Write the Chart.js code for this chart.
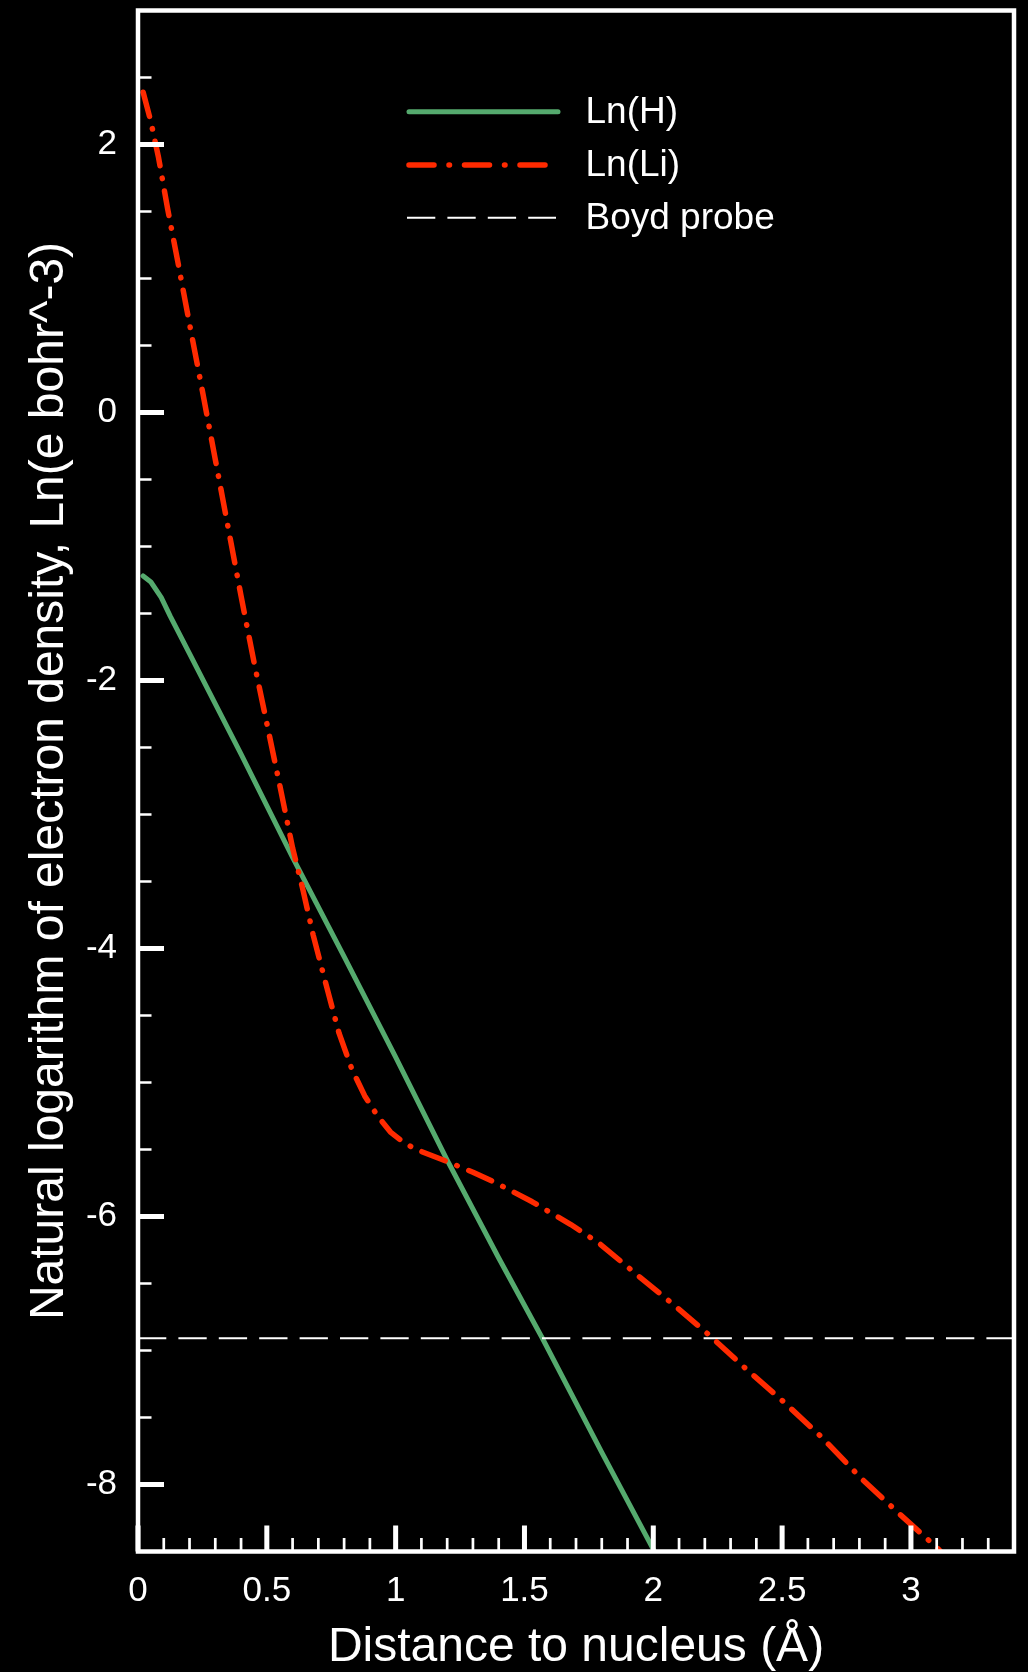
<!DOCTYPE html>
<html>
<head>
<meta charset="utf-8">
<script src="https://cdn.jsdelivr.net/npm/chart.js@4.4.1/dist/chart.umd.min.js"></script>
<style>
  html, body { margin: 0; padding: 0; background: #000; }
  canvas { display: block; }
</style>
</head>
<body>
<canvas id="c" width="1028" height="1672"></canvas>
<script>
// Radial electron density profiles (natural log), distance in Å
const distH = [0.02, 0.05, 0.09, 0.125, 0.2, 0.4, 0.6, 0.8, 1.0, 1.2, 1.4, 1.57, 1.8, 2.01];
const lnH   = [-1.22, -1.265, -1.38, -1.52, -1.80, -2.55, -3.32, -4.06, -4.81, -5.58, -6.31, -6.91, -7.76, -8.52];

const distLi = [0.02, 0.05, 0.08, 0.115, 0.157, 0.205, 0.25, 0.30, 0.35, 0.40, 0.45, 0.50, 0.55, 0.60,
                0.64, 0.68, 0.73, 0.78, 0.83, 0.88, 0.93, 0.98, 1.03, 1.08, 1.20, 1.30, 1.39, 1.53,
                1.68, 1.79, 1.94, 2.08, 2.22, 2.35, 2.51, 2.65, 2.81, 2.95, 3.10, 3.12];
const lnLi   = [2.39, 2.17, 1.90, 1.52, 1.10, 0.61, 0.16, -0.35, -0.86, -1.37, -1.86, -2.32, -2.78, -3.25,
                -3.56, -3.90, -4.27, -4.63, -4.90, -5.10, -5.25, -5.37, -5.445, -5.50, -5.59, -5.67, -5.75, -5.89,
                -6.06, -6.20, -6.44, -6.66, -6.89, -7.12, -7.39, -7.64, -7.96, -8.21, -8.47, -8.51];

const boydDist = [0, 3.4];
const boydLn   = [-6.908, -6.908];

const seriesNames = ['Ln(H)', 'Ln(Li)', 'Boyd probe'];

const xTickValues = [0, 0.5, 1, 1.5, 2, 2.5, 3];
const xTickLabels = ['0', '0.5', '1', '1.5', '2', '2.5', '3'];
const yTickValues = [-8, -6, -4, -2, 0, 2];
const yTickLabels = ['-8', '-6', '-4', '-2', '0', '2'];

const FONT = "'Liberation Sans', Arial, Helvetica, sans-serif";
const GREEN = '#55aa6e';
const RED = '#ff2a00';
const WHITE = '#ffffff';

const toPoints = (xs, ys) => xs.map((x, i) => ({ x: x, y: ys[i] }));

// Boxed frame with inward major/minor ticks on the left and bottom sides
const framePlugin = {
  id: 'frame',
  afterDatasetsDraw(chart) {
    const { ctx, chartArea: a, scales: { x, y } } = chart;
    ctx.save();
    ctx.strokeStyle = WHITE;
    ctx.lineCap = 'butt';

    // minor ticks
    ctx.lineWidth = 2.7;
    ctx.beginPath();
    for (let k = 1; k < 34; k++) {
      if (k % 5 === 0) continue;
      const px = x.getPixelForValue(k / 10);
      ctx.moveTo(px, a.bottom);
      ctx.lineTo(px, a.bottom - 13.5);
    }
    for (let k = -17; k < 6; k++) {
      const v = k / 2;
      if (v % 2 === 0 || v <= -8.5) continue;
      const py = y.getPixelForValue(v);
      ctx.moveTo(a.left, py);
      ctx.lineTo(a.left + 13.5, py);
    }
    ctx.stroke();

    // major ticks
    ctx.lineWidth = 5;
    ctx.beginPath();
    xTickValues.forEach(v => {
      const px = x.getPixelForValue(v);
      ctx.moveTo(px, a.bottom);
      ctx.lineTo(px, a.bottom - 26);
    });
    yTickValues.forEach(v => {
      const py = y.getPixelForValue(v);
      ctx.moveTo(a.left, py);
      ctx.lineTo(a.left + 26, py);
    });
    ctx.stroke();

    // frame
    ctx.lineWidth = 4.5;
    ctx.strokeRect(a.left, a.top, a.right - a.left, a.bottom - a.top);
    ctx.restore();
  }
};

// Legend with line-style samples
const keyPlugin = {
  id: 'key',
  afterDraw(chart) {
    const { ctx } = chart;
    const rows = [
      { label: seriesNames[0], color: GREEN, width: 5, dash: [], cap: 'round', x0: 409, x1: 558 },
      { label: seriesNames[1], color: RED, width: 5.5, dash: [25, 15, 0.5, 15], cap: 'round', x0: 409, x1: 548 },
      { label: seriesNames[2], color: WHITE, width: 2, dash: [28.3, 12.1], cap: 'butt', x0: 407, x1: 556 }
    ];
    const ys = [111.7, 165, 217.7];
    ctx.save();
    rows.forEach((r, i) => {
      ctx.beginPath();
      ctx.strokeStyle = r.color;
      ctx.lineWidth = r.width;
      ctx.lineCap = r.cap;
      ctx.setLineDash(r.dash);
      ctx.moveTo(r.x0, ys[i]);
      ctx.lineTo(r.x1, ys[i]);
      ctx.stroke();
      ctx.setLineDash([]);
      ctx.fillStyle = WHITE;
      ctx.font = '37px ' + FONT;
      ctx.textAlign = 'left';
      ctx.textBaseline = 'middle';
      ctx.fillText(r.label, 585.5, ys[i] + 1);
    });
    ctx.restore();
  }
};

new Chart(document.getElementById('c'), {
  type: 'line',
  data: {
    datasets: [
      {
        label: seriesNames[0],
        data: toPoints(distH, lnH),
        borderColor: GREEN,
        borderWidth: 5,
        borderJoinStyle: 'round',
        borderCapStyle: 'round',
        order: 2
      },
      {
        label: seriesNames[1],
        data: toPoints(distLi, lnLi),
        borderColor: RED,
        borderWidth: 5.5,
        borderDash: [25, 12.5, 0.5, 12.5],
        borderCapStyle: 'round',
        borderJoinStyle: 'round',
        order: 0
      },
      {
        label: seriesNames[2],
        data: toPoints(boydDist, boydLn),
        borderColor: WHITE,
        borderWidth: 2,
        borderDash: [28.3, 12.1],
        borderCapStyle: 'butt',
        order: 1
      }
    ]
  },
  options: {
    responsive: false,
    animation: false,
    devicePixelRatio: 1,
    layout: { padding: { top: 10.5, right: 14, bottom: 0, left: 0 } },
    elements: { point: { radius: 0 }, line: { tension: 0, fill: false } },
    plugins: { legend: { display: false }, tooltip: { enabled: false } },
    scales: {
      x: {
        type: 'linear',
        min: 0,
        max: 3.4,
        grid: { display: false, drawTicks: false },
        border: { display: false },
        afterBuildTicks: s => { s.ticks = xTickValues.map(v => ({ value: v })); },
        afterFit: s => { s.height = 120.5; s.paddingLeft = 0; s.paddingRight = 0; },
        ticks: {
          color: WHITE,
          font: { family: FONT, size: 35 },
          padding: 19,
          maxRotation: 0,
          autoSkip: false,
          callback: (v) => { const i = xTickValues.indexOf(v); return i >= 0 ? xTickLabels[i] : ''; }
        },
        title: {
          display: true,
          text: 'Distance to nucleus (Å)',
          color: WHITE,
          font: { family: FONT, size: 48, lineHeight: 1 },
          padding: { top: 0, bottom: 0 }
        }
      },
      y: {
        type: 'linear',
        min: -8.5,
        max: 3,
        grid: { display: false, drawTicks: false },
        border: { display: false },
        afterBuildTicks: s => { s.ticks = yTickValues.map(v => ({ value: v })); },
        afterFit: s => { s.width = 138; s.paddingTop = 0; s.paddingBottom = 0; },
        ticks: {
          color: WHITE,
          font: { family: FONT, size: 35 },
          padding: 21,
          autoSkip: false,
          callback: (v) => { const i = yTickValues.indexOf(v); return i >= 0 ? yTickLabels[i] : ''; }
        },
        title: {
          display: true,
          text: 'Natural logarithm of electron density, Ln(e bohr^-3)',
          color: WHITE,
          font: { family: FONT, size: 48, lineHeight: 1 },
          padding: { top: 26, bottom: 0 }
        }
      }
    }
  },
  plugins: [framePlugin, keyPlugin]
});
</script>
</body>
</html>
